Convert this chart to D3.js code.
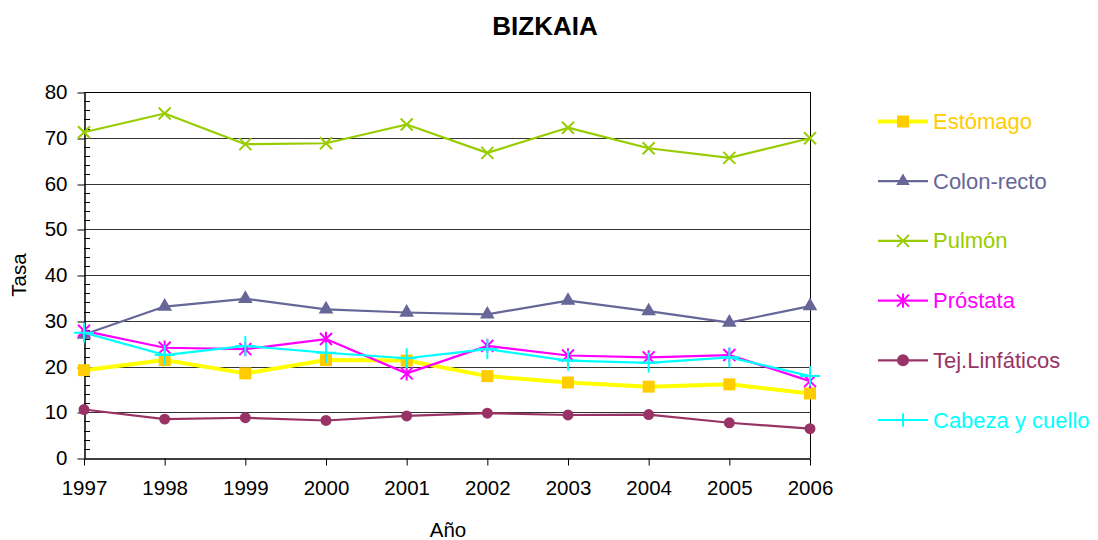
<!DOCTYPE html>
<html lang="es">
<head>
<meta charset="utf-8">
<title>BIZKAIA</title>
<script src="https://d3js.org/d3.v7.min.js"></script>
<style>
  body { margin: 0; background: #fff; }
  svg text { font-family: "Liberation Sans", Arial, sans-serif; }
  .axis path, .axis line { stroke: #000; }
  .axis text { font-size: 20.5px; fill: #000; }
</style>
</head>
<body>
<svg width="1098" height="540"></svg>
<script>
  // data
  var years = [1997, 1998, 1999, 2000, 2001, 2002, 2003, 2004, 2005, 2006];
  var estomago   = [19.2, 21.4, 18.5, 21.4, 21.3, 17.9, 16.5, 15.6, 16.1, 14.1];
  var colonRecto = [27.0, 33.1, 34.8, 32.5, 31.8, 31.4, 34.4, 32.1, 29.6, 33.2];
  var pulmon     = [71.2, 75.3, 68.6, 68.8, 72.9, 66.7, 72.2, 67.7, 65.6, 69.9];
  var prostata   = [27.8, 24.1, 23.8, 26.0, 18.5, 24.5, 22.4, 22.0, 22.5, 16.8];
  var tejLinf    = [10.6, 8.5, 8.8, 8.2, 9.2, 9.8, 9.4, 9.5, 7.7, 6.4];
  var cabeza     = [27.4, 22.5, 24.5, 23.0, 21.8, 23.8, 21.3, 20.8, 22.0, 17.9];
  var yTicks = [0, 10, 20, 30, 40, 50, 60, 70, 80];

  var series = [
    {name: "Estómago", values: estomago, line: "#FFFF00", mark: "#FFCC00", text: "#FFCC00", width: 4, shape: "square"},
    {name: "Colon-recto", values: colonRecto, line: "#666699", mark: "#666699", text: "#666699", width: 2.2, shape: "triangle"},
    {name: "Pulmón", values: pulmon, line: "#99CC00", mark: "#99CC00", text: "#99CC00", width: 2.2, shape: "x"},
    {name: "Próstata", values: prostata, line: "#FF00FF", mark: "#FF00FF", text: "#FF00FF", width: 2.2, shape: "star"},
    {name: "Tej.Linfáticos", values: tejLinf, line: "#993366", mark: "#993366", text: "#993366", width: 2.2, shape: "circle"},
    {name: "Cabeza y cuello", values: cabeza, line: "#00FFFF", mark: "#00FFFF", text: "#00FFFF", width: 2.2, shape: "plus"}
  ];

  var svg = d3.select("svg");
  var plotLeft = 84, plotRight = 810, plotTop = 92, plotBottom = 458;

  var x = d3.scaleLinear().domain([1997, 2006]).range([plotLeft, plotRight]);
  var y = d3.scaleLinear().domain([0, 80]).range([plotBottom, plotTop]);

  function crisp(v) { return Math.round(v) + 0.5; }

  // gridlines
  svg.append("g")
    .selectAll("line").data(yTicks.slice(1)).enter().append("line")
    .attr("x1", plotLeft).attr("x2", plotRight)
    .attr("y1", function(d) { return crisp(y(d)); })
    .attr("y2", function(d) { return crisp(y(d)); })
    .attr("stroke", function(d) { return d == 80 ? "#000" : "#333"; });

  // right border
  svg.append("line")
    .attr("x1", plotRight + 0.5).attr("x2", plotRight + 0.5)
    .attr("y1", plotTop).attr("y2", plotBottom)
    .attr("stroke", "#000");

  // minor ticks (inside)
  svg.append("g")
    .selectAll("line").data(d3.range(0, 81, 2).filter(function(d) { return d % 10 != 0; }))
    .enter().append("line")
    .attr("x1", plotLeft).attr("x2", plotLeft + 6)
    .attr("y1", function(d) { return crisp(y(d)); })
    .attr("y2", function(d) { return crisp(y(d)); })
    .attr("stroke", "#000");

  svg.append("g").attr("class", "axis")
    .attr("transform", "translate(" + (plotLeft + 0.5) + ",0)")
    .call(d3.axisLeft(y).tickValues(yTicks).tickSize(7).tickPadding(10).tickSizeOuter(0))
    .selectAll(".tick line")
    .attr("transform", function(d) { return "translate(0," + (crisp(y(d)) - y(d)) + ")"; });

  svg.append("g").attr("class", "axis")
    .attr("transform", "translate(0," + (plotBottom + 0.5) + ")")
    .call(d3.axisBottom(x).tickValues(years).tickFormat(d3.format("d")).tickSize(7).tickPadding(15).tickSizeOuter(0));

  svg.selectAll(".axis .domain").attr("stroke-width", 1.5);

  // markers
  function markerPath(shape, s) {
    var r = s / 2;
    if (shape == "x") return "M" + (-r) + "," + (-r) + "L" + r + "," + r + "M" + (-r) + "," + r + "L" + r + "," + (-r);
    if (shape == "plus") return "M" + (-r) + ",0H" + r + "M0," + (-r) + "V" + r;
    if (shape == "star") return "M" + (-r) + "," + (-r) + "L" + r + "," + r + "M" + (-r) + "," + r + "L" + r + "," + (-r) + "M0," + (-r * 1.2) + "V" + (r * 1.2);
    if (shape == "square") return d3.symbol(d3.symbolSquare, s * s)();
    if (shape == "triangle") return d3.symbol(d3.symbolTriangle, s * s * 0.55)();
    return d3.symbol(d3.symbolCircle, s * s * 0.78)();
  }
  function isStroked(shape) { return shape == "x" || shape == "plus" || shape == "star"; }
  var markSize = {square: 12, triangle: 13, x: 12, star: 12, circle: 11, plus: 20};

  var line = d3.line()
    .x(function(d, i) { return x(years[i]); })
    .y(function(d) { return y(d); });

  series.forEach(function(s) {
    var g = svg.append("g");
    g.append("path")
      .attr("d", line(s.values))
      .attr("fill", "none")
      .attr("stroke", s.line)
      .attr("stroke-width", s.width)
      .attr("stroke-linejoin", "round");
    g.selectAll("path.m").data(s.values).enter().append("path")
      .attr("class", "m")
      .attr("transform", function(d, i) { return "translate(" + x(years[i]) + "," + y(d) + ")"; })
      .attr("d", markerPath(s.shape, markSize[s.shape]))
      .attr("fill", isStroked(s.shape) ? "none" : s.mark)
      .attr("stroke", isStroked(s.shape) ? s.mark : "none")
      .attr("stroke-width", 2);
  });

  // legend
  var legend = svg.append("g");
  series.forEach(function(s, i) {
    var ly = 121.5 + i * 59.7;
    var lg = legend.append("g").attr("transform", "translate(0," + ly + ")");
    lg.append("line")
      .attr("x1", 878).attr("x2", 928)
      .attr("stroke", s.line).attr("stroke-width", s.width);
    lg.append("path")
      .attr("transform", "translate(903,0)")
      .attr("d", markerPath(s.shape, s.shape == "plus" ? 13 : 12))
      .attr("fill", isStroked(s.shape) ? "none" : s.mark)
      .attr("stroke", isStroked(s.shape) ? s.mark : "none")
      .attr("stroke-width", 2);
    lg.append("text")
      .attr("x", 933).attr("y", 7.5)
      .attr("font-size", "22px")
      .attr("fill", s.text)
      .text(s.name);
  });

  // titles
  svg.append("text")
    .attr("x", 545).attr("y", 35)
    .attr("text-anchor", "middle")
    .attr("font-size", "26px").attr("font-weight", "bold")
    .text("BIZKAIA");

  svg.append("text")
    .attr("x", 448).attr("y", 537)
    .attr("text-anchor", "middle")
    .attr("font-size", "20.5px")
    .text("Año");

  svg.append("text")
    .attr("transform", "translate(26,275) rotate(-90)")
    .attr("text-anchor", "middle")
    .attr("font-size", "20.5px")
    .text("Tasa");
</script>
</body>
</html>
